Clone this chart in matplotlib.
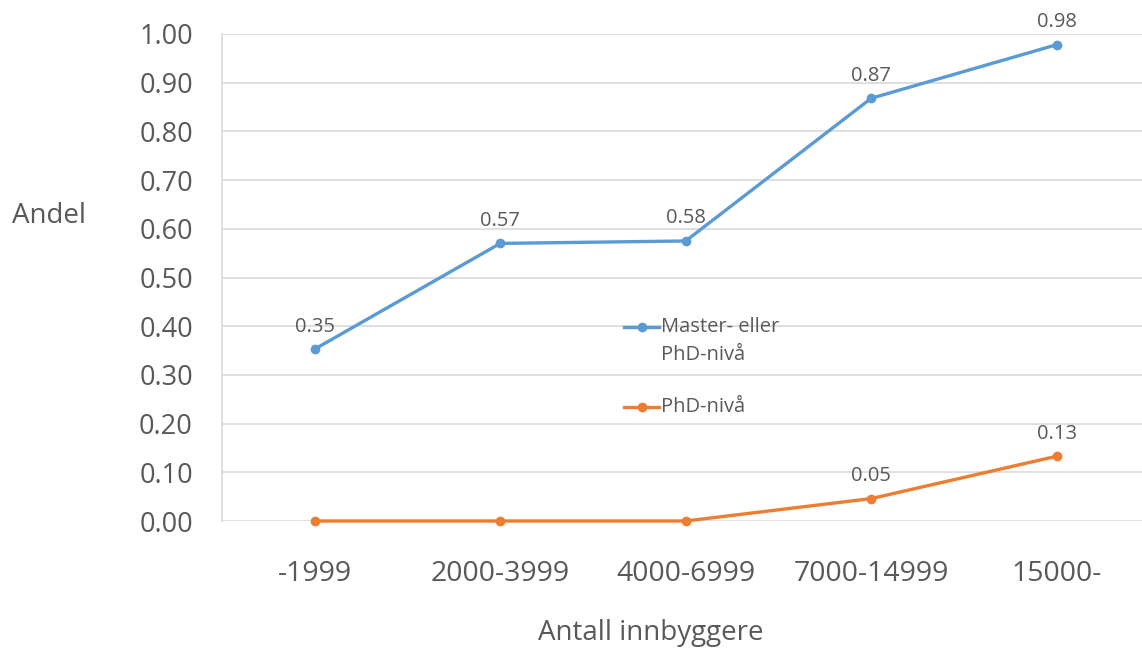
import numpy as np
import matplotlib.pyplot as plt
from matplotlib.lines import Line2D

kategorier = ["-1999", "2000-3999", "4000-6999", "7000-14999", "15000-"]
master_phd = [0.353, 0.570, 0.575, 0.868, 0.978]
phd = [0.0, 0.0, 0.0, 0.046, 0.133]
etiketter_master = ["0.35", "0.57", "0.58", "0.87", "0.98"]
etiketter_phd = [None, None, None, "0.05", "0.13"]
serienavn = ["Master- eller\nPhD-nivå", "PhD-nivå"]

plt.rcParams['font.family'] = ['Open Sans', 'DejaVu Sans']
tekstfarge = '#595959'

W, H = 1142, 648
fig = plt.figure(figsize=(W / 100, H / 100), dpi=100)
ax = fig.add_axes([222 / W, 1 - 521 / H, 1 - 222 / W, (521 - 34) / H])

x = np.arange(len(kategorier))
blaa = '#5B9BD5'
oransje = '#ED7D31'
ax.plot(x, master_phd, color=blaa, lw=2.4, marker='o', ms=6, zorder=3, clip_on=False)
ax.plot(x, phd, color=oransje, lw=2.4, marker='o', ms=6, zorder=3, clip_on=False)

for xi, v, t in zip(x, master_phd, etiketter_master):
    ax.annotate(t, (xi, v), xytext=(0, 9), textcoords='offset points', ha='center', va='bottom',
                fontsize=14.5, color=tekstfarge)
for xi, v, t in zip(x, phd, etiketter_phd):
    if t:
        ax.annotate(t, (xi, v), xytext=(0, 9), textcoords='offset points', ha='center', va='bottom',
                    fontsize=14.5, color=tekstfarge)

ax.set_xlim(-0.5, 4.46)
ax.set_ylim(0, 1.0)
yticks = np.arange(0, 1.01, 0.1)
ax.set_yticks(yticks)
ax.set_yticklabels([f"{v:.2f}" for v in yticks])
ax.set_xticks(x)
ax.set_xticklabels(kategorier)
ax.tick_params(axis='both', length=0, labelcolor=tekstfarge)
ax.tick_params(axis='y', labelsize=19.5, pad=21)
ax.tick_params(axis='x', labelsize=20.5, pad=28)
ax.grid(axis='y', color='#D9D9D9', lw=1.2)
ax.set_axisbelow(True)
for s in ['top', 'right', 'bottom']:
    ax.spines[s].set_visible(False)
ax.spines['left'].set_color('#D9D9D9')
ax.spines['left'].set_linewidth(1.2)

fig.text(12 / W, 1 - 216 / H, "Andel", fontsize=20, color=tekstfarge, va='center', ha='left')
fig.text(651 / W, 1 - 633 / H, "Antall innbyggere", fontsize=20, color=tekstfarge, va='center', ha='center')

# legende tegnet for hånd slik at markøren står ved første tekstlinje
for navn, farge, ytop in zip(serienavn, [blaa, oransje], [327, 407]):
    yf = 1 - ytop / H
    fig.add_artist(Line2D([624 / W, 659 / W], [yf, yf], color=farge, lw=2.4, transform=fig.transFigure))
    fig.add_artist(Line2D([642 / W], [yf], color=farge, marker='o', ms=6, transform=fig.transFigure))
    fig.text(661 / W, yf + 10 / H, navn, fontsize=14.5, color=tekstfarge, va='top', ha='left',
             linespacing=1.5)

fig.savefig("out.png", dpi=100)
